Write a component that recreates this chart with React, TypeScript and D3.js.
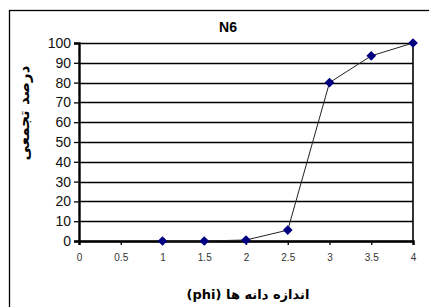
import React, { useEffect, useRef } from "react";
import * as d3 from "d3";

const phi = [1, 1.5, 2, 2.5, 3, 3.5, 4];
const cumPercent = [0, 0, 0.5, 5.5, 80, 93.5, 100];
const xTicks = [0, 0.5, 1, 1.5, 2, 2.5, 3, 3.5, 4];
const yTicks = [0, 10, 20, 30, 40, 50, 60, 70, 80, 90, 100];
const title = "N6";
const xTitle = "اندازه دانه ها (phi)";
const yTitle = "درصد تجمعی";

export default function App() {
  const ref = useRef<SVGSVGElement>(null);

  useEffect(() => {
    const svg = d3.select(ref.current);
    svg.selectAll("*").remove();
    const W = 429, H = 307;
    const left = 79, right = 413, top = 43, bottom = 241;
    const font = "'Liberation Sans', Arial, 'DejaVu Sans', sans-serif";
    const faFont = "'DejaVu Sans', 'Liberation Sans', sans-serif";

    const x = d3.scaleLinear().domain([0, 4]).range([left, right]);
    const y = d3.scaleLinear().domain([0, 100]).range([bottom, top]);

    svg.append("rect").attr("width", W).attr("height", H).attr("fill", "#fff");
    svg.append("rect")
      .attr("x", 9.5).attr("y", 10.5)
      .attr("width", 440).attr("height", 320)
      .attr("fill", "none").attr("stroke", "#000").attr("stroke-width", 1.3);

    // gridlines
    svg.append("g").selectAll("line").data(yTicks).enter().append("line")
      .attr("x1", left).attr("x2", right)
      .attr("y1", d => Math.round(y(d)) + 0.5).attr("y2", d => Math.round(y(d)) + 0.5)
      .attr("stroke", "#000").attr("stroke-width", 1.3);

    // right border of plot
    svg.append("line")
      .attr("x1", right).attr("x2", right).attr("y1", top).attr("y2", bottom)
      .attr("stroke", "#000").attr("stroke-width", 1.6);

    // y axis
    const yAxis = svg.append("g")
      .attr("transform", `translate(${left},0)`)
      .call(d3.axisLeft(y).tickValues(yTicks).tickSize(5).tickPadding(3));
    yAxis.select(".domain").attr("stroke-width", 2.4);
    yAxis.selectAll(".tick line").attr("stroke-width", 1.3);
    yAxis.selectAll("text")
      .attr("font-family", font).attr("font-size", 14).attr("fill", "#111");

    // x axis
    const xAxis = svg.append("g")
      .attr("transform", `translate(0,${bottom})`)
      .call(d3.axisBottom(x).tickValues(xTicks).tickSize(4).tickPadding(9)
        .tickFormat(d => String(d)));
    xAxis.select(".domain").attr("stroke-width", 2.4);
    xAxis.selectAll(".tick line").attr("stroke-width", 1.3);
    xAxis.selectAll("text")
      .attr("font-family", font).attr("font-size", 10).attr("fill", "#333");

    // series line
    const pts = phi.map((p, i) => [p, cumPercent[i]] as [number, number]);
    svg.append("path")
      .datum(pts)
      .attr("d", d3.line<[number, number]>().x(d => x(d[0])).y(d => y(d[1])))
      .attr("fill", "none").attr("stroke", "#222").attr("stroke-width", 1);

    // diamond markers
    const diamond = d3.symbol().type(d3.symbolDiamond2).size(60);
    svg.append("g").selectAll("path").data(pts).enter().append("path")
      .attr("d", diamond)
      .attr("transform", d => `translate(${x(d[0])},${y(d[1])})`)
      .attr("fill", "#000080");

    // titles
    svg.append("text")
      .attr("x", 228).attr("y", 32)
      .attr("text-anchor", "middle")
      .attr("font-family", font).attr("font-weight", "bold").attr("font-size", 14)
      .text(title);

    svg.append("text")
      .attr("x", 248).attr("y", 299)
      .attr("text-anchor", "middle")
      .attr("direction", "rtl")
      .attr("font-family", faFont).attr("font-weight", "bold").attr("font-size", 13)
      .text(xTitle);

    svg.append("text")
      .attr("transform", "translate(29,113) rotate(-90)")
      .attr("text-anchor", "middle")
      .attr("direction", "rtl")
      .attr("font-family", faFont).attr("font-weight", "bold").attr("font-size", 15)
      .text(yTitle);
  }, []);

  return (
    <svg
      ref={ref}
      width={429}
      height={307}
      style={{ position: "absolute", left: 0, top: 0 }}
    />
  );
}
